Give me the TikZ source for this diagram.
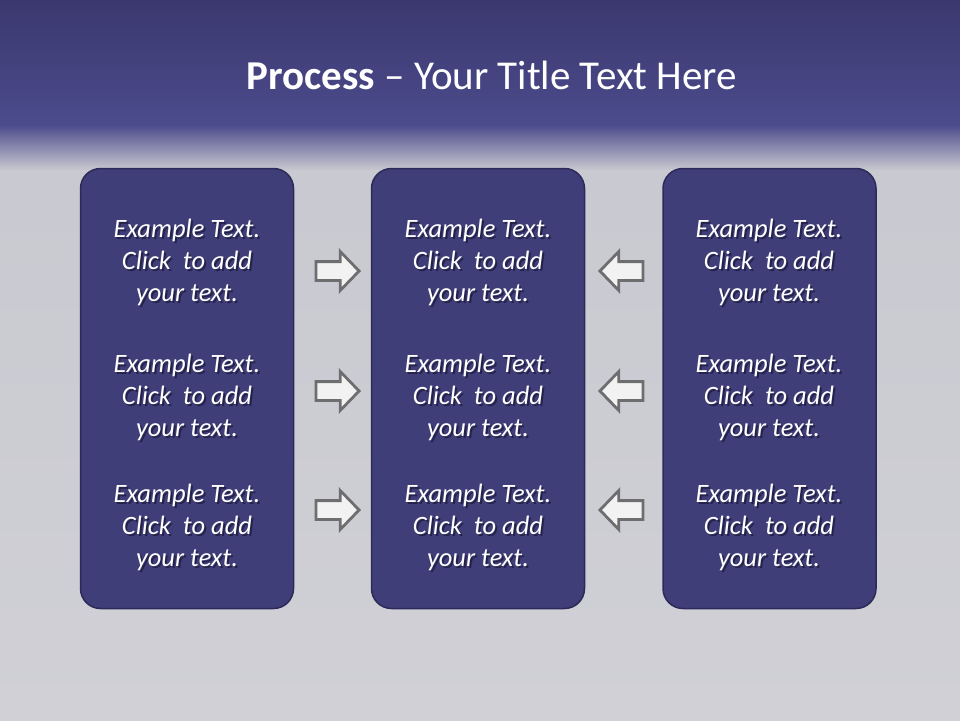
\documentclass[tikz,border=0pt]{standalone}
\usepackage{fontspec}
\setmainfont{Carlito}
\usetikzlibrary{shapes.arrows}
\definecolor{bandtop}{HTML}{3A386E}
\definecolor{bandbot}{HTML}{4C4B8C}
\definecolor{greytop}{HTML}{C8C8D0}
\definecolor{greybot}{HTML}{D0D0D6}
\definecolor{boxfill}{HTML}{403E78}
\definecolor{boxline}{HTML}{2C2A58}
\definecolor{arrowfill}{HTML}{F2F2F2}
\definecolor{arrowline}{HTML}{6E6E70}
\definecolor{shadowcol}{HTML}{1E1C40}
\tikzset{
  panel/.style={draw=boxline, line width=1.5pt, fill=boxfill, rounded corners=20pt, minimum width=213pt, minimum height=440pt, inner sep=0pt},
  txt/.style={align=center, text=white, font=\fontsize{26.5}{32}\selectfont\itshape},
  shadowtxt/.style={txt, text=shadowcol, text opacity=0.8},
  blockarrow/.style={single arrow, draw=arrowline, fill=arrowfill, line width=2.8pt, minimum height=43pt, inner xsep=0pt, inner ysep=8pt, single arrow head extend=10pt, single arrow tip angle=92, anchor=tip}
}
\begin{document}
\begin{tikzpicture}[x=1pt,y=-1pt]
\useasboundingbox (0,0) rectangle (960,720);
% background
\shade[top color=greytop, bottom color=greybot] (0,120) rectangle (960,720);
\shade[top color=bandtop, bottom color=bandbot] (0,0) rectangle (960,125);
\shade[top color=bandbot, bottom color=greytop] (0,125) rectangle (960,170);
% title
\node[text=white, font=\fontsize{41}{48}\selectfont] (title) at (492,75) {\textbf{Process} -- Your Title Text Here};
% panels
\node[panel] (p1) at (187,388.5) {};
\node[panel] (p2) at (478,388.5) {};
\node[panel] (p3) at (769.5,388.5) {};
% texts with shadow
\foreach \c/\x in {1/187,2/478,3/769}{
  \foreach \r/\y in {1/262,2/397,3/527}{
    \node[shadowtxt] (s\c\r) at (\x+2,\y+2.5) {Example Text.\\Click\ \ to add\\your text.};
    \node[txt] (t\c\r) at (\x,\y) {Example Text.\\Click\ \ to add\\your text.};
  }
}
% arrows
\node[blockarrow] (ra1) at (361,271) {};
\node[blockarrow] (ra2) at (361,391) {};
\node[blockarrow] (ra3) at (361,510) {};
\node[blockarrow, shape border rotate=180] (la1) at (598,271) {};
\node[blockarrow, shape border rotate=180] (la2) at (598,391) {};
\node[blockarrow, shape border rotate=180] (la3) at (598,510) {};
\end{tikzpicture}
\end{document}
